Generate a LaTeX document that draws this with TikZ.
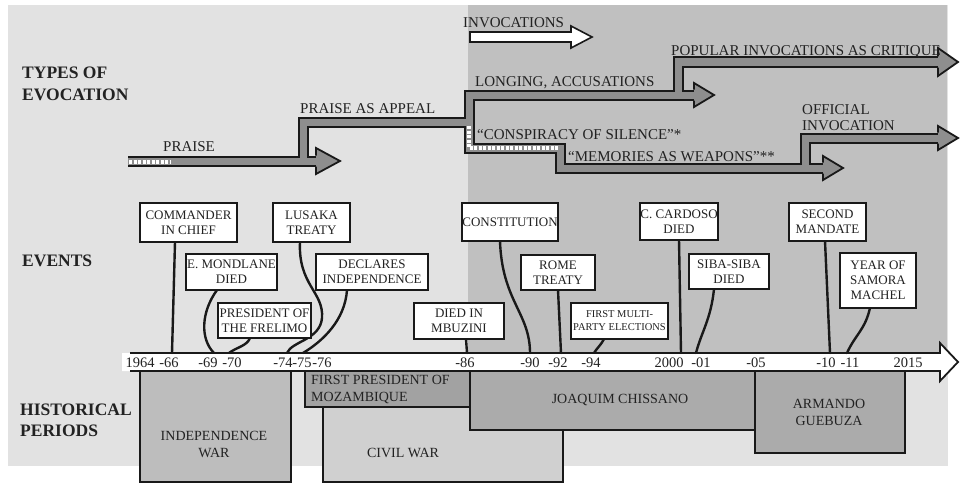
\documentclass[tikz,border=0pt]{standalone}
\usepackage{fontspec}
\setmainfont{Liberation Serif}
\definecolor{bandgray}{HTML}{8E8E8E}
\definecolor{bglight}{HTML}{E2E2E2}
\definecolor{bgdark}{HTML}{C0C0C0}
\definecolor{indepc}{HTML}{BDBDBD}
\definecolor{firstpc}{HTML}{A2A2A2}
\definecolor{civilc}{HTML}{D0D0D0}
\definecolor{chissc}{HTML}{ABABAB}
\definecolor{txt}{HTML}{222222}
\begin{document}
\begin{tikzpicture}[x=1pt,y=-1pt,
  lab/.style={inner sep=0pt, font=\fontsize{15}{16}\selectfont, text=txt, anchor=base west},
  side/.style={inner sep=0pt, font=\bfseries\fontsize{17.5}{22}\selectfont, anchor=base west, text=txt},
  evbox/.style={draw=black!90, fill=white, line width=1.8pt, inner sep=0pt, align=center, font=\fontsize{13}{15}\selectfont, text=txt},
  yr/.style={inner sep=0pt, font=\fontsize{14.5}{16}\selectfont, anchor=base, text=txt},
  conn/.style={line width=2.4pt, black!90, line cap=round},
  bandout/.style={line width=11pt, black!90, line join=miter},
  bandin/.style={line width=7pt, bandgray, line join=miter},
  hatch/.style={line width=3.5pt, white, dash pattern=on 3pt off 1.5pt},
  period/.style={draw=black!90, line width=1.6pt},
  ptext/.style={inner sep=0pt, font=\fontsize{14}{17}\selectfont, align=center, text=txt}
]
\useasboundingbox (0,0) rectangle (960,487);
% backgrounds
\fill[bglight] (8,5) rectangle (948,466);
\fill[bgdark] (468,5) rectangle (947,353);

% side labels
\node[side] (tlab1) at (22,78) {TYPES OF};
\node[side] (tlab2) at (22,100) {EVOCATION};
\node[side] (elab) at (22,266) {EVENTS};
\node[side] (hlab1) at (20,415) {HISTORICAL};
\node[side] (hlab2) at (20,436) {PERIODS};

% legend arrow
\node[lab] (invlab) at (463,28) {INVOCATIONS};
\draw[line width=1.6pt, black!90, fill=white, line join=miter]
  (470,32) -- (571,32) -- (571,26) -- (592,37) -- (571,48) -- (571,42) -- (470,42) -- cycle;

% evocation bands: outlines
\draw[bandout] (128,161) -- (317,161);
\draw[bandout] (303,161) -- (303,122) -- (469,122);
\draw[bandout] (469,122) -- (469,95) -- (695,95);
\draw[bandout] (678,95) -- (678,62) -- (939,62);
\draw[bandout] (469,122) -- (469,148) -- (560,148) -- (560,168) -- (824,168);
\draw[bandout] (805,168) -- (805,138) -- (939,138);
% inner fill
\draw[bandin] (128,161) -- (317,161);
\draw[bandin] (303,161) -- (303,122) -- (469,122);
\draw[bandin] (469,122) -- (469,95) -- (695,95);
\draw[bandin] (678,95) -- (678,62) -- (939,62);
\draw[bandin] (469,122) -- (469,148) -- (560,148) -- (560,168) -- (824,168);
\draw[bandin] (805,168) -- (805,138) -- (939,138);
% hatches
\draw[hatch] (129,162) -- (170,162);
\draw[hatch] (469,126) -- (469,148) -- (558,148);
% heads
\foreach \b/\t/\c/\h in {316/340/161/13, 694/714/95/12, 938/958/62/14, 823/843/168/12, 938/958/138/12}{
  \fill[bandgray] (\b,\c-\h) -- (\t,\c) -- (\b,\c+\h) -- cycle;
  \draw[line width=1.8pt, black!90, line join=miter] (\b,\c-5.5) -- (\b,\c-\h) -- (\t,\c) -- (\b,\c+\h) -- (\b,\c+5.5);
}

% band labels
\node[lab] (praise) at (163,151) {PRAISE};
\node[lab] (appeal) at (300,113) {PRAISE AS APPEAL};
\node[lab] (longing) at (475,86) {LONGING, ACCUSATIONS};
\node[lab] (popular) at (671,56) {POPULAR INVOCATIONS AS CRITIQUE};
\node[lab] (consp) at (477,139) {“CONSPIRACY OF SILENCE”*};
\node[lab] (memor) at (568,161) {“MEMORIES AS WEAPONS”**};
\node[lab] (offic1) at (802,114) {OFFICIAL};
\node[lab] (offic2) at (802,130) {INVOCATION};

% period boxes
\draw[period, fill=civilc] (323,407) rectangle (563,482);
\draw[period, fill=indepc] (140,371) rectangle (291,482);
\draw[period, fill=firstpc] (305,371) rectangle (470,407);
\draw[period, fill=chissc] (470,371) rectangle (755,430);
\draw[period, fill=chissc] (755,371) rectangle (905,453);
\node[ptext] (indep) at (214,444) {INDEPENDENCE\\WAR};
\node[ptext] (civil) at (403,453) {CIVIL WAR};
\node[ptext, align=left, anchor=west] (firstp) at (311,389) {FIRST PRESIDENT OF\\MOZAMBIQUE};
\node[ptext] (chiss) at (620,400) {JOAQUIM CHISSANO};
\node[ptext] (gueb) at (829,412) {ARMANDO\\GUEBUZA};

% timeline
\fill[white] (122,353) -- (940,353) -- (940,343) -- (958,362) -- (940,381) -- (940,371) -- (122,371) -- cycle;
\draw[line width=1.8pt, black!90, line join=miter] (130,353) -- (940,353) -- (940,343) -- (958,362) -- (940,381) -- (940,371) -- (130,371);
\foreach \n/\x/\t in {a/140/1964, b/169/-66, c/208/-69, d/232/-70, e/283/-74, f/302/-75, g/322/-76, h/465/-86, i/530/-90, j/558/-92, k/591/-94, l/669/2000, m/701/-01, n/756/-05, o/826/-10, p/850/-11, q/908/2015}{
  \node[yr] (yr\n) at (\x,367) {\t};
}

% timeline anchor points
\coordinate (e1) at (172,353);
\coordinate (e2) at (214,353);
\coordinate (e3) at (229,353);
\coordinate (e4) at (287,353);
\coordinate (e5) at (303,353);
\coordinate (e6) at (467,353);
\coordinate (e7) at (530,353);
\coordinate (e8) at (561,353);
\coordinate (e9) at (594,353);
\coordinate (e10) at (681,353);
\coordinate (e11) at (696,353);
\coordinate (e12) at (830,353);
\coordinate (e13) at (847,353);

% connectors (drawn before boxes)
\coordinate (lusmid) at (322,318);
\draw[conn] (175,242) -- (e1);
\draw[conn] (217,290) .. controls +(-16,22) and +(-14,-14) .. (e2);
\draw[conn] (250,338) .. controls +(-3,8) and +(8,-6) .. (e3);
\draw[conn] (300,242) .. controls +(-2,43) and +(2,-26) .. (lusmid) .. controls +(-2,22) and +(5,-12) .. (e4);
\draw[conn] (347,290) .. controls +(-2,30) and +(20,-12) .. (e5);
\draw[conn] (466,339) -- (e6);
\draw[conn] (500,241) .. controls +(2,60) and +(0,-40) .. (e7);
\draw[conn] (558,290) -- (e8);
\draw[conn] (604,339) .. controls +(-3,6) and +(3,-5) .. (e9);
\draw[conn] (679,240) -- (e10);
\draw[conn] (714,289) .. controls +(-3,30) and +(5,-20) .. (e11);
\draw[conn] (825,241) -- (e12);
\draw[conn] (870,308) .. controls +(-5,22) and +(8,-18) .. (e13);

% event boxes
\node[evbox, minimum width=97pt, minimum height=39pt] (cmd) at (188.5,222.5) {COMMANDER\\IN CHIEF};
\node[evbox, minimum width=91pt, minimum height=36pt] (mond) at (231.5,272) {E. MONDLANE\\DIED};
\node[evbox, minimum width=93pt, minimum height=35pt] (pres) at (264.5,320.5) {PRESIDENT OF\\THE FRELIMO};
\node[evbox, minimum width=77pt, minimum height=39pt] (lus) at (311.5,222.5) {LUSAKA\\TREATY};
\node[evbox, minimum width=112pt, minimum height=36pt] (decl) at (372,272) {DECLARES\\INDEPENDENCE};
\node[evbox, minimum width=90pt, minimum height=36pt] (mbu) at (459,321) {DIED IN\\MBUZINI};
\node[evbox, minimum width=94pt, minimum height=38pt] (const) at (510,222) {CONSTITUTION};
\node[evbox, minimum width=74pt, minimum height=35pt] (rome) at (558,272.5) {ROME\\TREATY};
\node[evbox, minimum width=97pt, minimum height=36pt, font=\fontsize{10.5}{13}\selectfont] (multi) at (619.5,321) {FIRST MULTI-\\PARTY ELECTIONS};
\node[evbox, minimum width=74pt, minimum height=37pt] (card) at (679,221.5) {C. CARDOSO\\DIED};
\node[evbox, minimum width=80pt, minimum height=35pt] (siba) at (729,271.5) {SIBA-SIBA\\DIED};
\node[evbox, minimum width=77pt, minimum height=38pt] (second) at (827.5,222) {SECOND\\MANDATE};
\node[evbox, minimum width=76pt, minimum height=55pt] (year) at (878,280.5) {YEAR OF\\SAMORA\\MACHEL};
\end{tikzpicture}
\end{document}
